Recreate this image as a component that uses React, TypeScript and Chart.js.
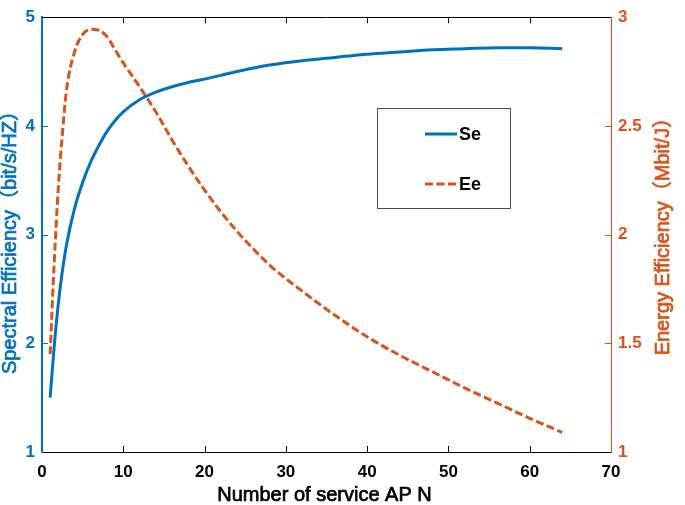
import React, { useEffect, useRef } from "react";
import { Chart, registerables } from "chart.js";

Chart.register(...registerables);

// Number of service APs (x values)
const nValues = [1, 1.5, 2, 2.5, 3, 4, 5, 6, 7, 8, 9, 10, 12, 14, 16, 18, 20, 22, 24, 28, 32, 36, 40, 44, 48, 52, 56, 60, 64];
// Spectral efficiency (bit/s/Hz), left axis
const seValues = [1.5, 1.97, 2.36, 2.66, 2.9, 3.24, 3.48, 3.67, 3.82, 3.95, 4.05, 4.13, 4.24, 4.31, 4.36, 4.4, 4.43, 4.465, 4.5, 4.56, 4.6, 4.63, 4.66, 4.68, 4.7, 4.71, 4.72, 4.72, 4.71];
// Energy efficiency (Mbit/J), right axis
const eeValues = [1.45, 1.87, 2.21, 2.46, 2.66, 2.84, 2.92, 2.945, 2.94, 2.91, 2.85, 2.79, 2.68, 2.565, 2.435, 2.315, 2.205, 2.105, 2.015, 1.86, 1.74, 1.63, 1.53, 1.445, 1.37, 1.295, 1.225, 1.155, 1.09];

const seriesLabels = ["Se", "Ee"];
const xTitle = "Number of service AP N";
const yTitle = "Spectral Efficiency（bit/s/HZ）";
const y1Title = "Energy Efficiency（Mbit/J）";

const BLUE = "#0072BD";
const ORANGE = "#D95319";
const FONT = "'Liberation Sans', Arial, 'Noto Sans CJK SC', sans-serif";

const innerTicks = {
  id: "innerTicks",
  beforeDatasetsDraw(chart: any) {
    const { ctx, chartArea } = chart;
    const { left, right, top, bottom } = chartArea;
    const xs = chart.scales.x;
    const ys = chart.scales.y;
    const y1s = chart.scales.y1;
    ctx.save();
    ctx.lineWidth = 1;
    ctx.strokeStyle = "#000";
    ctx.beginPath();
    ctx.moveTo(left, Math.round(top) + 0.5);
    ctx.lineTo(right, Math.round(top) + 0.5);
    xs.ticks.forEach((t: any) => {
      const px = Math.round(xs.getPixelForValue(t.value)) + 0.5;
      if (px <= left + 2 || px >= right - 2) return;
      ctx.moveTo(px, bottom);
      ctx.lineTo(px, bottom - 6);
      ctx.moveTo(px, top);
      ctx.lineTo(px, top + 6);
    });
    ctx.stroke();
    ctx.strokeStyle = BLUE;
    ctx.beginPath();
    ys.ticks.forEach((t: any) => {
      const py = Math.round(ys.getPixelForValue(t.value)) + 0.5;
      if (py <= top + 2 || py >= bottom - 2) return;
      ctx.moveTo(left, py);
      ctx.lineTo(left + 6, py);
    });
    ctx.stroke();
    ctx.strokeStyle = ORANGE;
    ctx.beginPath();
    y1s.ticks.forEach((t: any) => {
      const py = Math.round(y1s.getPixelForValue(t.value)) + 0.5;
      if (py <= top + 2 || py >= bottom - 2) return;
      ctx.moveTo(right, py);
      ctx.lineTo(right - 6, py);
    });
    ctx.stroke();
    ctx.restore();
  },
};

function drawTitle(ctx: any, text: string, x: number, y: number, color: string, rot: number) {
  ctx.save();
  ctx.translate(x, y);
  ctx.rotate(rot);
  ctx.font = `20px ${FONT}`;
  ctx.textAlign = "center";
  ctx.textBaseline = "middle";
  ctx.fillStyle = color;
  ctx.strokeStyle = color;
  ctx.lineWidth = 0.7;
  ctx.fillText(text, 0, 0);
  ctx.strokeText(text, 0, 0);
  ctx.restore();
}

const axisTitles = {
  id: "axisTitles",
  afterDraw(chart: any) {
    const { ctx, chartArea } = chart;
    const cy = (chartArea.top + chartArea.bottom) / 2;
    const cx = (chartArea.left + chartArea.right) / 2;
    drawTitle(ctx, xTitle, cx - 2, 495, "#000", 0);
    drawTitle(ctx, yTitle, 10, cy + 3, BLUE, -Math.PI / 2);
    drawTitle(ctx, y1Title, 663, cy - 3, ORANGE, -Math.PI / 2);
  },
};

const boxLegend = {
  id: "boxLegend",
  afterDatasetsDraw(chart: any) {
    const { ctx } = chart;
    const bx = 377.5, by = 108.5, bw = 133, bh = 100;
    ctx.save();
    ctx.fillStyle = "#fff";
    ctx.fillRect(bx, by, bw, bh);
    ctx.strokeStyle = "#4d4d4d";
    ctx.lineWidth = 1;
    ctx.strokeRect(bx, by, bw, bh);
    ctx.font = `bold 18px ${FONT}`;
    ctx.textBaseline = "middle";
    ctx.textAlign = "left";
    chart.data.datasets.forEach((ds: any, i: number) => {
      const ly = 134 + i * 50;
      ctx.strokeStyle = ds.borderColor;
      ctx.lineWidth = 3;
      ctx.setLineDash(ds.borderDash || []);
      ctx.beginPath();
      ctx.moveTo(425, ly);
      ctx.lineTo(457, ly);
      ctx.stroke();
      ctx.setLineDash([]);
      ctx.fillStyle = "#000";
      ctx.fillText(ds.label, 459, ly + 1);
    });
    ctx.restore();
  },
};

const tickFont = { family: FONT, size: 17, weight: "bold" as const };

export default function App() {
  const ref = useRef<HTMLCanvasElement>(null);
  useEffect(() => {
    if (!ref.current) return;
    const chart = new Chart(ref.current, {
      type: "line",
      data: {
        datasets: [
          {
            label: seriesLabels[0],
            data: nValues.map((n, i) => ({ x: n, y: seValues[i] })),
            yAxisID: "y",
            borderColor: BLUE,
            borderWidth: 3,
            pointRadius: 0,
            cubicInterpolationMode: "monotone",
            fill: false,
          },
          {
            label: seriesLabels[1],
            data: nValues.map((n, i) => ({ x: n, y: eeValues[i] })),
            yAxisID: "y1",
            borderColor: ORANGE,
            borderWidth: 3,
            borderDash: [8, 3.5],
            pointRadius: 0,
            cubicInterpolationMode: "monotone",
            fill: false,
          },
        ],
      },
      options: {
        animation: false,
        responsive: false,
        devicePixelRatio: 1,
        layout: { padding: { top: 9, left: 0, right: 12, bottom: 0 } },
        plugins: { legend: { display: false }, tooltip: { enabled: false } },
        scales: {
          x: {
            type: "linear",
            position: "bottom",
            min: 0,
            max: 70,
            grid: { display: false, drawTicks: false },
            border: { display: true, color: "#000", width: 1 },
            ticks: { stepSize: 10, color: "#000", padding: 10, font: tickFont },
            afterFit: (s: any) => { s.height = 53; },
          },
          y: {
            type: "linear",
            position: "left",
            min: 1,
            max: 5,
            grid: { display: false, drawTicks: false },
            border: { display: true, color: BLUE, width: 2 },
            ticks: { stepSize: 1, color: BLUE, padding: 7, font: tickFont },
            afterFit: (s: any) => { s.width = 42; },
          },
          y1: {
            type: "linear",
            position: "right",
            min: 1,
            max: 3,
            grid: { display: false, drawTicks: false },
            border: { display: true, color: ORANGE, width: 1 },
            ticks: { stepSize: 0.5, color: ORANGE, padding: 7, font: tickFont, callback: (v: any) => String(v) },
            afterFit: (s: any) => { s.width = 62; },
          },
        },
      },
      plugins: [innerTicks, boxLegend, axisTitles],
    });
    return () => chart.destroy();
  }, []);
  return (
    <div style={{ position: "fixed", left: 0, top: 0, width: 685, height: 505, background: "#fff" }}>
      <canvas ref={ref} width={685} height={505} style={{ display: "block" }} />
    </div>
  );
}
